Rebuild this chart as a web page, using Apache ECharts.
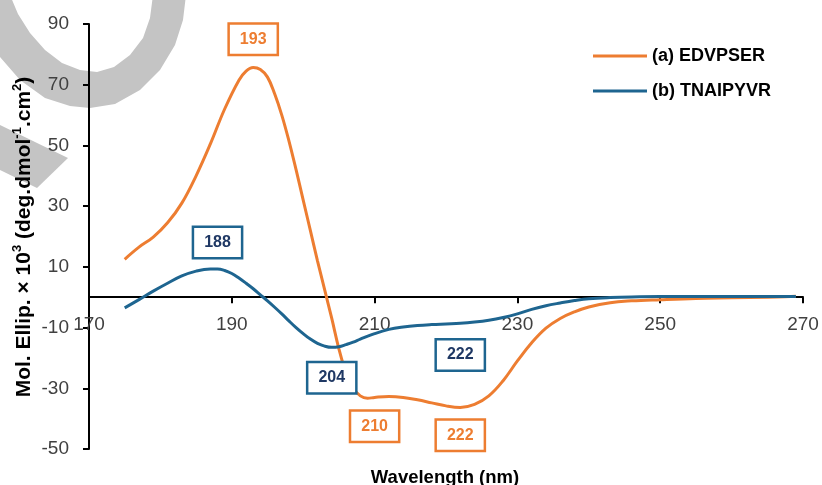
<!DOCTYPE html>
<html>
<head>
<meta charset="utf-8">
<script src="https://cdn.jsdelivr.net/npm/echarts@6/dist/echarts.min.js"></script>
<style>
  html, body { margin: 0; padding: 0; background: #fff; }
  #chart { width: 822px; height: 485px; }
</style>
</head>
<body>
<div id="chart"></div>
<script>
// CD spectra of two peptides: wavelength (nm) vs molar ellipticity
const seriesNames = ['(a) EDVPSER', '(b) TNAIPYVR'];

const edvpser = [
  [175, 12.5], [177, 16.5], [179, 19.8], [181, 24.5], [183, 31], [185, 40],
  [187, 50.5], [189, 62], [191, 71.5], [192, 74.5], [193, 75.7], [194, 75],
  [195, 72.5], [196, 67], [197, 60], [198, 51.5], [199, 42], [200, 32],
  [201, 22], [202, 12], [203, 2.5], [204, -7], [205, -17], [206, -25],
  [207, -30], [208, -32.5], [209, -33.3], [210, -33], [212, -32.7],
  [214, -33], [216, -33.8], [218, -34.8], [220, -35.8], [222, -36.3],
  [224, -35.3], [226, -32.5], [228, -27.5], [230, -21], [232, -15],
  [234, -10.2], [236, -7], [238, -4.8], [240, -3.2], [243, -1.8],
  [246, -1.2], [250, -0.8], [255, -0.4], [260, -0.2], [265, 0], [269, 0.3]
];

const tnaipyvr = [
  [175, -3.5], [177, -0.8], [179, 2], [181, 4.6], [183, 7], [185, 8.6],
  [187, 9.3], [188, 9.3], [189, 8.8], [190, 7.8], [191, 6.3], [192, 4.6],
  [193, 2.8], [194, 0.8], [195, -1.2], [196, -3.3], [197, -5.5], [198, -7.8],
  [199, -10], [200, -12], [201, -13.8], [202, -15.2], [203, -16.1],
  [204, -16.5], [205, -16.3], [206, -15.6], [207, -14.8], [208, -13.8],
  [210, -12], [212, -10.6], [214, -9.8], [216, -9.3], [218, -9], [220, -8.8],
  [222, -8.6], [224, -8.2], [226, -7.6], [228, -6.7], [230, -5.5], [232, -4],
  [234, -2.8], [236, -1.9], [238, -1.1], [240, -0.5], [243, -0.1], [246, 0.1],
  [250, 0.2], [255, 0.2], [260, 0.2], [265, 0.2], [269, 0.2]
];

// Peak / trough wavelengths, each paired with the height where its box sits
const peakBoxesA = [[193, 85], [210, -42.5], [222, -45.5]];
const peakBoxesB = [[188, 18], [204, -26.5], [222, -19]];

const xTicks = [170, 190, 210, 230, 250, 270];
const yTicks = [-50, -30, -10, 10, 30, 50, 70, 90];

const ORANGE = '#ED7D31';
const BLUE = '#1E6590';
const NAVY = '#1F3864';
const GREY = '#c4c4c4';
const FONT = '"Liberation Sans", Arial, sans-serif';

function boxLabel(border, text) {
  return {
    show: true,
    position: 'inside',
    formatter: p => String(p.value[0]),
    color: text,
    fontFamily: FONT,
    fontWeight: 'bold',
    fontSize: 16,
    backgroundColor: '#fff',
    borderColor: border,
    borderWidth: 2.5,
    padding: [7, 10, 6, 10]
  };
}

const chart = echarts.init(document.getElementById('chart'), null, { renderer: 'canvas' });

chart.setOption({
  animation: false,
  backgroundColor: '#fff',
  grid: { left: 89, right: 19, top: 24, bottom: 36, containLabel: false, outerBoundsMode: 'none' },
  graphic: [
    // grey logo fragments behind the plot
    {
      type: 'polygon', z: -10, silent: true,
      shape: {
        points: [
          [-20, 30], [0, 57], [20, 80], [45, 98], [70, 106], [90, 108],
          [115, 104], [140, 90], [160, 70], [175, 45], [183, 20], [186, -5],
          [153, -5], [150, 18], [143, 38], [130, 55], [114, 67], [97, 72],
          [80, 70], [62, 63], [45, 50], [30, 33], [18, 14], [10, -5], [-20, -5]
        ]
      },
      style: { fill: GREY }
    },
    {
      type: 'polygon', z: -10, silent: true,
      shape: { points: [[0, 125], [68, 158], [37, 188], [0, 170]] },
      style: { fill: GREY }
    },
    {
      type: 'text', z: 10,
      x: 23, y: 237, rotation: Math.PI / 2,
      style: {
        text: '{b|Mol. Ellip. × 10}{s|3}{b| (deg.dmol}{s|-1}{b|.cm}{s|2}{b|)}',
        align: 'center', verticalAlign: 'middle',
        rich: {
          b: { fontFamily: FONT, fontWeight: 'bold', fontSize: 21, fill: '#000', lineHeight: 24, verticalAlign: 'bottom' },
          s: { fontFamily: FONT, fontWeight: 'bold', fontSize: 13, fill: '#000', lineHeight: 24, verticalAlign: 'top' }
        }
      }
    },
    {
      type: 'text', z: 10,
      x: 445, y: 478,
      style: {
        text: 'Wavelength (nm)',
        align: 'center', verticalAlign: 'middle',
        fontFamily: FONT, fontWeight: 'bold', fontSize: 18.5, fill: '#000'
      }
    }
  ],
  legend: {
    data: seriesNames,
    orient: 'vertical',
    left: 593, top: 47,
    padding: 0,
    itemWidth: 54, itemHeight: 3,
    itemGap: 17,
    icon: 'rect',
    textStyle: { fontFamily: FONT, fontWeight: 'bold', fontSize: 18, color: '#000' }
  },
  xAxis: {
    type: 'value',
    min: 170, max: 270,
    axisLine: { onZero: true, lineStyle: { color: '#000', width: 2 } },
    axisTick: { show: true, length: 6, customValues: xTicks, lineStyle: { color: '#000', width: 2 } },
    axisLabel: { customValues: xTicks, margin: -134, fontFamily: FONT, fontSize: 19, color: '#404040' },
    splitLine: { show: false }
  },
  yAxis: {
    type: 'value',
    min: -50, max: 90,
    axisLine: { show: true, lineStyle: { color: '#000', width: 2 } },
    axisTick: { show: true, length: 6, customValues: yTicks, lineStyle: { color: '#000', width: 2 } },
    axisLabel: { customValues: yTicks, margin: 20, fontFamily: FONT, fontSize: 19, color: '#404040' },
    splitLine: { show: false }
  },
  series: [
    {
      name: seriesNames[0], type: 'line', data: edvpser,
      smooth: 0.4, showSymbol: false, symbol: 'none',
      lineStyle: { color: ORANGE, width: 3 }, itemStyle: { color: ORANGE }, z: 3
    },
    {
      name: seriesNames[1], type: 'line', data: tnaipyvr,
      smooth: 0.4, showSymbol: false, symbol: 'none',
      lineStyle: { color: BLUE, width: 3 }, itemStyle: { color: BLUE }, z: 4
    },
    {
      type: 'scatter', data: peakBoxesA, symbolSize: 1,
      itemStyle: { color: 'rgba(0,0,0,0)', opacity: 1 }, label: boxLabel(ORANGE, ORANGE), z: 6
    },
    {
      type: 'scatter', data: peakBoxesB, symbolSize: 1,
      itemStyle: { color: 'rgba(0,0,0,0)', opacity: 1 }, label: boxLabel(BLUE, NAVY), z: 6
    }
  ]
});
</script>
</body>
</html>
